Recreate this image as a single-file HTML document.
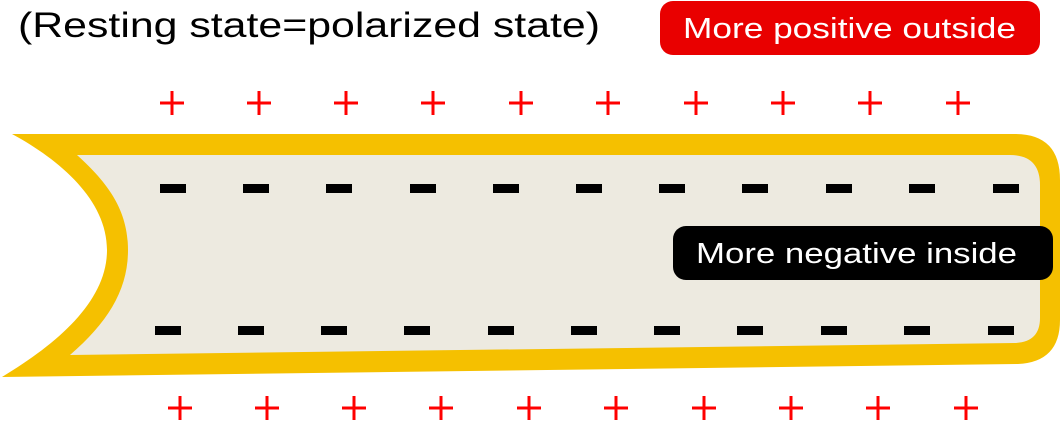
<!DOCTYPE html>
<html><head><meta charset="utf-8"><style>
html,body{margin:0;padding:0;background:#fff;}
svg{display:block}
text{font-family:"Liberation Sans",sans-serif;}
</style></head><body>
<svg width="1061" height="438" viewBox="0 0 1061 438" xmlns="http://www.w3.org/2000/svg">
<text x="18" y="37" font-size="35" fill="#000" textLength="582" lengthAdjust="spacingAndGlyphs">(Resting state=polarized state)</text>
<rect x="660" y="1" width="380" height="54" rx="13" fill="#e90000"/>
<text x="683" y="38" font-size="29" fill="#fff" textLength="333" lengthAdjust="spacingAndGlyphs">More positive outside</text>
<path d="M12,134 L1015,134 Q1060,134 1060,180 L1060,320 Q1060,362 1018,364 L2,377 C60,342 107,300 107,250 C107,200 60,160 12,134 Z" fill="#f5c000"/>
<path d="M77,155 L1010,155 Q1040,155 1040,185 L1040,318 Q1040,342 1015,343 L70,355 C108,322 128,290 128,250 C128,210 108,183 77,155 Z" fill="#edeae0"/>
<g fill="#000">
<rect x="160" y="184" width="26" height="9"/><rect x="243" y="184" width="26" height="9"/><rect x="326" y="184" width="26" height="9"/><rect x="410" y="184" width="26" height="9"/><rect x="493" y="184" width="26" height="9"/><rect x="576" y="184" width="26" height="9"/><rect x="659" y="184" width="26" height="9"/><rect x="742" y="184" width="26" height="9"/><rect x="826" y="184" width="26" height="9"/><rect x="909" y="184" width="26" height="9"/><rect x="993" y="184" width="26" height="9"/>
<rect x="155" y="326" width="26" height="9"/><rect x="238" y="326" width="26" height="9"/><rect x="321" y="326" width="26" height="9"/><rect x="404" y="326" width="26" height="9"/><rect x="488" y="326" width="26" height="9"/><rect x="571" y="326" width="26" height="9"/><rect x="654" y="326" width="26" height="9"/><rect x="737" y="326" width="26" height="9"/><rect x="821" y="326" width="26" height="9"/><rect x="904" y="326" width="26" height="9"/><rect x="988" y="326" width="26" height="9"/>
</g>
<rect x="673" y="226" width="380" height="54" rx="13" fill="#000"/>
<text x="696" y="263" font-size="29" fill="#fff" textLength="321" lengthAdjust="spacingAndGlyphs">More negative inside</text>
<g stroke="#f00" stroke-width="3" fill="none">
<path d="M160,103h24M172,91v24 M247,103h24M259,91v24 M334,103h24M346,91v24 M421,103h24M433,91v24 M509,103h24M521,91v24 M596,103h24M608,91v24 M684,103h24M696,91v24 M771,103h24M783,91v24 M858,103h24M870,91v24 M946,103h24M958,91v24"/>
<path d="M168,408h24M180,396v24 M255,408h24M267,396v24 M342,408h24M354,396v24 M429,408h24M441,396v24 M517,408h24M529,396v24 M604,408h24M616,396v24 M692,408h24M704,396v24 M779,408h24M791,396v24 M866,408h24M878,396v24 M954,408h24M966,396v24"/>
</g>
</svg>
</body></html>
